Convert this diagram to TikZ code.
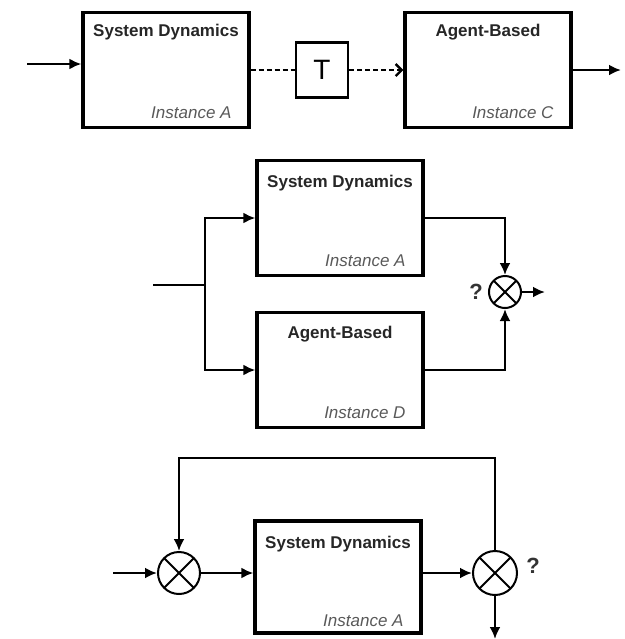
\documentclass[tikz,border=0pt]{standalone}
\usepackage{fontspec}
\setmainfont{Liberation Sans}
\usetikzlibrary{positioning,arrows.meta}

\begin{document}
\begin{tikzpicture}[x=0.5pt,y=-0.5pt,
	model/.style={draw,line width=1.6pt,minimum width=83pt,minimum height=57.5pt,inner sep=0pt},
	title/.style={font=\fontsize{8.5}{10}\selectfont\bfseries,text=black!85},
	inst/.style={font=\fontsize{8.5}{10}\selectfont\itshape,text=black!65,anchor=east},
	delay/.style={draw,line width=1.1pt,minimum width=26pt,minimum height=27.5pt,font=\fontsize{14}{16}\selectfont},
	junc/.style={circle,draw,line width=1pt,inner sep=0pt,
		path picture={\draw[line width=1pt] (path picture bounding box.north west) -- (path picture bounding box.south east)
			(path picture bounding box.south west) -- (path picture bounding box.north east);}},
	qmark/.style={font=\fontsize{11}{13}\selectfont\bfseries,text=black!80},
	flow/.style={line width=1.2pt,-{Latex[length=6pt,width=5.5pt]}},
	line/.style={line width=1.2pt}]

	\useasboundingbox (0,0) rectangle (625,639);

	% top row: coupling through a delay
	\node[model] (sdtop) at (166,70) {};
	\node[title] (sdtoptitle) at ([yshift=-10.5pt]sdtop.north) {System Dynamics};
	\node[inst] (sdtopinst) at ([xshift=-6pt,yshift=8pt]sdtop.south east) {Instance A};
	\node[delay] (tbox) at (322,70) {T};
	\node[model] (abtop) at (488,70) {};
	\node[title] (abtoptitle) at ([yshift=-10.5pt]abtop.north) {Agent-Based};
	\node[inst] (abtopinst) at ([xshift=-6pt,yshift=8pt]abtop.south east) {Instance C};
	\coordinate (intop) at (27,64);
	\coordinate (outtop) at (621,70);

	\draw[flow] (intop) -- (intop -| sdtop.west);
	\draw[line width=1.2pt,dash pattern=on 2.5pt off 1.5pt] (sdtop.east) -- (tbox.west);
	\draw[line width=1.2pt,dash pattern=on 2.5pt off 1.5pt,-{Straight Barb[length=3pt,width=6pt]}] (tbox.east) -- (abtop.west);
	\draw[flow] (abtop.east) -- (outtop);

	% middle row: parallel models
	\node[model] (sdmid) at (340,218) {};
	\node[title] (sdmidtitle) at ([yshift=-12pt]sdmid.north) {System Dynamics};
	\node[inst] (sdmidinst) at ([xshift=-6pt,yshift=8pt]sdmid.south east) {Instance A};
	\node[model] (abmid) at (340,370) {};
	\node[title] (abmidtitle) at ([yshift=-11.5pt]abmid.north) {Agent-Based};
	\node[inst] (abmidinst) at ([xshift=-6pt,yshift=8pt]abmid.south east) {Instance D};
	\node[junc,minimum size=16pt] (jmid) at (505,292) {};
	\node[qmark] (qmid) at (476,292) {?};
	\coordinate (inmid) at (153,285);
	\coordinate (fork) at (205,285);
	\coordinate (outmid) at (545,292);

	\draw[line] (inmid) -- (fork);
	\draw[flow] (fork) |- (sdmid.west);
	\draw[flow] (fork) |- (abmid.west);
	\draw[flow] (sdmid.east) -| (jmid.north);
	\draw[flow] (abmid.east) -| (jmid.south);
	\draw[flow] (jmid.east) -- (outmid);

	% bottom row: feedback loop
	\node[model,minimum height=56pt] (sdbot) at (338,577) {};
	\node[title] (sdbottitle) at ([yshift=-12.5pt]sdbot.north) {System Dynamics};
	\node[inst] (sdbotinst) at ([xshift=-6pt,yshift=7pt]sdbot.south east) {Instance A};
	\node[junc,minimum size=21pt] (jin) at (179,573) {};
	\node[junc,minimum size=22pt] (jout) at (495,573) {};
	\node[qmark] (qbot) at (533,566) {?};
	\coordinate (inbot) at (113,573);
	\coordinate (fb) at (337,458);
	\coordinate (outbot) at (495,639);

	\draw[flow] (inbot) -- (jin.west);
	\draw[flow] (jin.east) -- (jin -| sdbot.west);
	\draw[flow] (jout -| sdbot.east) -- (jout.west);
	\draw[flow] (jout.north) |- (fb) -| (jin.north);
	\draw[flow] (jout.south) -- (outbot);

\end{tikzpicture}
\end{document}
